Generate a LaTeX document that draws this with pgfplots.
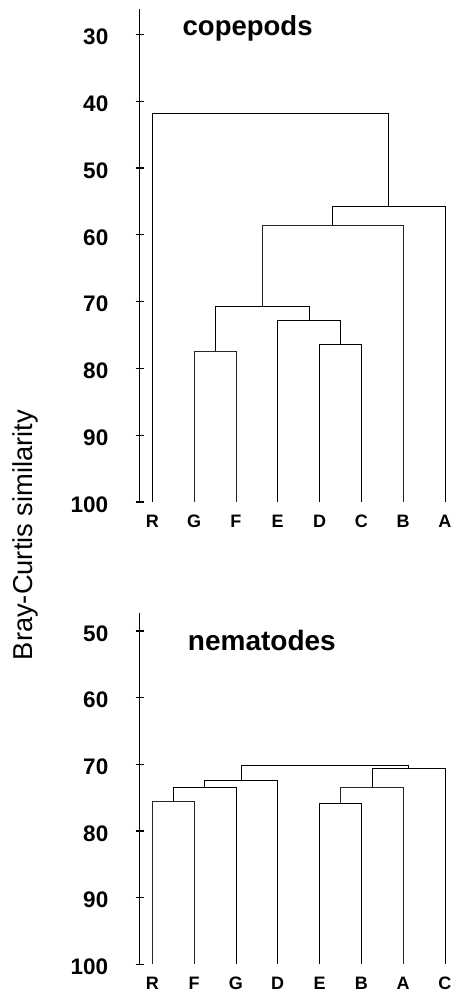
\documentclass[border=0pt]{standalone}
\usepackage{pgfplots}
\pgfplotsset{compat=1.18}
\usepackage{fontspec}
\setmainfont{Liberation Sans}
\begin{document}
\begin{tikzpicture}[x=1pt,y=1pt]
\useasboundingbox (0,0) rectangle (450,-992);
\pgfplotsset{
 dendro/.style={
   scale only axis,
   width=309.3pt,
   xmin=-0.3, xmax=7.1,
   y dir=reverse,
   ymax=100,
   axis y line*=left,
   axis x line*=bottom,
   axis line style={-},
   x axis line style={draw=none},
   xtick={0,...,7},
   xtick style={draw=none},
   xticklabel style={font=\fontsize{18}{18}\selectfont\bfseries, anchor=base, inner sep=0pt, yshift=-25.5pt},
   ytick align=center,
   major tick length=8pt,
   y axis line style={line width=1.3pt},
   ytick style={line width=1.1pt, black},
   yticklabel style={font=\fontsize{22.5}{22.5}\selectfont\bfseries, xshift=-24pt, yshift=-2.5pt},
   /pgf/number format/assume math mode=true,
   clip=false,
   cycle list={{black!85, solid, line width=0.9pt, mark=none}},
 }
}
\begin{axis}[dendro,
  at={(139.8pt,-9pt)}, anchor=north west,
  height=493pt, ymin=26.2,
  ytick={30,40,...,100},
  xticklabels={R,G,F,E,D,C,B,A}]
\addplot coordinates {(1,100) (1,77.4) (2,77.4) (2,100)};
\addplot coordinates {(4,100) (4,76.4) (5,76.4) (5,100)};
\addplot coordinates {(3,100) (3,72.8) (4.5,72.8) (4.5,76.4)};
\addplot coordinates {(1.5,77.4) (1.5,70.7) (3.75,70.7) (3.75,72.8)};
\addplot coordinates {(2.625,70.7) (2.625,58.6) (6,58.6) (6,100)};
\addplot coordinates {(4.3125,58.6) (4.3125,55.7) (7,55.7) (7,100)};
\addplot coordinates {(0,100) (0,41.9) (5.65625,41.9) (5.65625,55.7)};
\node[anchor=base, font=\fontsize{27.5}{27.5}\selectfont\bfseries] at (axis cs:2.28,30.1) {copepods};
\end{axis}
\begin{axis}[dendro,
  at={(139.8pt,-613.3pt)}, anchor=north west,
  height=351pt, ymin=47.35,
  ytick={50,60,...,100},
  xticklabels={R,F,G,D,E,B,A,C}]
\addplot coordinates {(0,100) (0,75.6) (1,75.6) (1,100)};
\addplot coordinates {(0.5,75.6) (0.5,73.4) (2,73.4) (2,100)};
\addplot coordinates {(1.25,73.4) (1.25,72.4) (3,72.4) (3,100)};
\addplot coordinates {(4,100) (4,75.9) (5,75.9) (5,100)};
\addplot coordinates {(4.5,75.9) (4.5,73.4) (6,73.4) (6,100)};
\addplot coordinates {(5.25,73.4) (5.25,70.6) (7,70.6) (7,100)};
\addplot coordinates {(2.125,72.4) (2.125,70.2) (6.125,70.2) (6.125,70.6)};
\node[anchor=base, font=\fontsize{28}{28}\selectfont\bfseries] at (axis cs:2.62,53.0) {nematodes};
\end{axis}
\node[rotate=90, anchor=base, font=\fontsize{27.3}{27.3}\selectfont] at (32pt,-535pt) {Bray-Curtis similarity};
\end{tikzpicture}
\end{document}
